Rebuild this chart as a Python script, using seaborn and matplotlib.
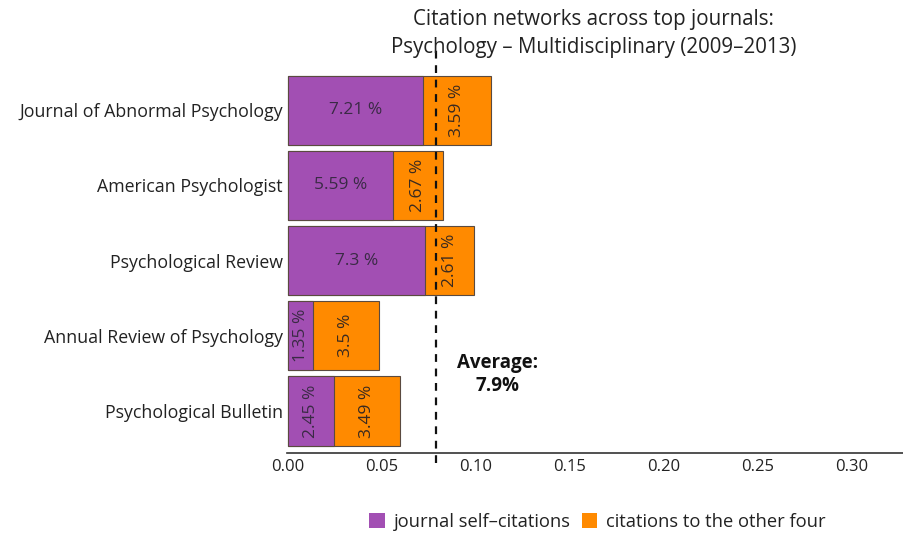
import matplotlib
matplotlib.use("Agg")
import matplotlib.pyplot as plt
import matplotlib.transforms as mtransforms
from matplotlib.patches import Patch
import seaborn as sns
import pandas as pd
import numpy as np

journals = ["Journal of Abnormal Psychology", "American Psychologist",
            "Psychological Review", "Annual Review of Psychology",
            "Psychological Bulletin"]
self_pct = [7.21, 5.59, 7.3, 1.35, 2.45]
other_pct = [3.59, 2.67, 2.61, 3.5, 3.49]
average = 0.079
xticks = [0.00, 0.05, 0.10, 0.15, 0.20, 0.25, 0.30]

PURPLE = "#A24FB3"
ORANGE = "#FF8A00"
EDGE = "#5a4a40"

sns.set_theme(style="white")
plt.rcParams["font.family"] = ["Open Sans", "DejaVu Sans"]

df = pd.DataFrame({
    "journal": journals,
    "self": np.array(self_pct) / 100,
    "other": np.array(other_pct) / 100,
})
df["total"] = df["self"] + df["other"]

fig = plt.figure(figsize=(9.04, 5.33), dpi=100)
ax = fig.add_axes([0.3175, 0.150, 0.6825, 0.722])

sns.barplot(data=df, x="total", y="journal", orient="h", color=ORANGE,
            saturation=1, width=0.92, edgecolor=EDGE, linewidth=0.8, ax=ax)
sns.barplot(data=df, x="self", y="journal", orient="h", color=PURPLE,
            saturation=1, width=0.92, edgecolor=EDGE, linewidth=0.8, ax=ax)

ax.set_xlim(-0.0005, 0.328)
ax.set_ylim(4.56, -0.56)
ax.set_xlabel("")
ax.set_ylabel("")
ax.set_xticks(xticks)
ax.set_xticklabels([f"{t:.2f}" for t in xticks], fontsize=12, color="#222222")
ax.tick_params(axis="y", labelsize=12.8, labelcolor="#222222", length=0, pad=3)
ax.tick_params(axis="x", length=3, color="#cccccc", direction="in", pad=4)
for s in ["top", "right", "left"]:
    ax.spines[s].set_visible(False)
ax.spines["bottom"].set_color("#333333")
ax.spines["bottom"].set_linewidth(1.2)

# small grey marks at bar edges on left
edges = []
for i in range(len(journals)):
    edges += [i - 0.46, i + 0.46]
ax.set_yticks(edges, minor=True)
ax.tick_params(axis="y", which="minor", length=5, color="#bbbbbb", width=0.8)

# value labels
for i, (s, o) in enumerate(zip(self_pct, other_pct)):
    sv, ov = s / 100, o / 100
    rot = 0 if sv > 0.03 else 90
    ax.text(sv / 2, i, f"{s:g} %", ha="center", va="center", rotation=rot,
            fontsize=12.5, color="#3a2a45")
    ax.text(sv + ov / 2, i, f"{o:g} %", ha="center", va="center", rotation=90,
            fontsize=12.5, color="#3a2a20")

# average line
trans = mtransforms.blended_transform_factory(ax.transData, ax.transAxes)
ax.plot([average, average], [-0.025, 1.06], transform=trans, color="#111111",
        linestyle=(0, (3.5, 3)), linewidth=1.6, clip_on=False)
ax.text(0.1114, 3.52, "Average:\n7.9%", ha="center", va="center",
        fontsize=13.5, fontweight="bold", color="#111111", linespacing=1.2)

fig.text(0.657, 0.963, "Citation networks across top journals:", ha="center",
         va="center", fontsize=14.8, color="#222222")
fig.text(0.657, 0.910, "Psychology \u2013 Multidisciplinary (2009\u20132013)",
         ha="center", va="center", fontsize=14.8, color="#222222")

handles = [Patch(facecolor=PURPLE, edgecolor="none", label="journal self\u2013citations"),
           Patch(facecolor=ORANGE, edgecolor="none", label="citations to the other four")]
fig.legend(handles=handles, loc="center", bbox_to_anchor=(0.661, 0.021),
           ncol=2, frameon=False, fontsize=13.2, handlelength=0.85, handleheight=0.85,
           handletextpad=0.5, columnspacing=0.6, labelcolor="#222222")

fig.savefig("out.png", dpi=100)
